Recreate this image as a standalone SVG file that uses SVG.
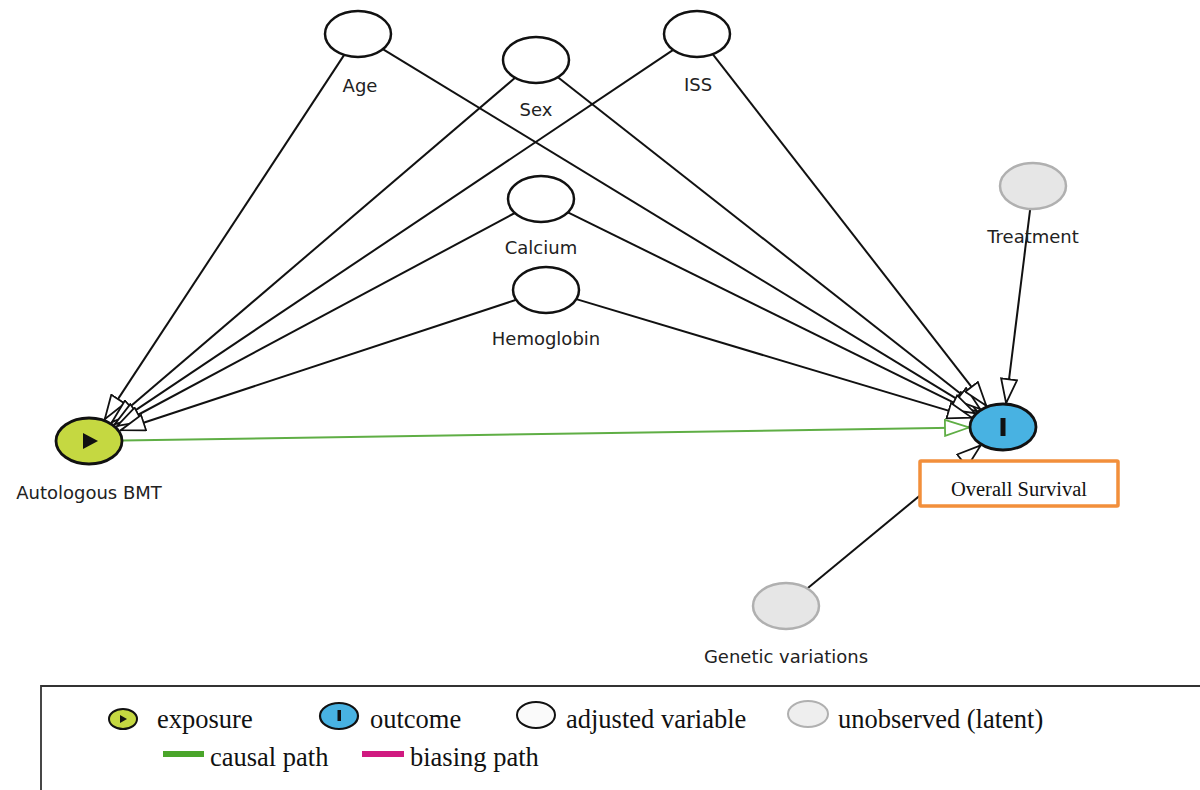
<svg xmlns="http://www.w3.org/2000/svg" width="1200" height="790" viewBox="0 0 1200 790">
<style>
.nd{fill:#ffffff;stroke:#111;stroke-width:2.5}
.lat{fill:#e6e6e6;stroke:#b0b0b0;stroke-width:2.5}
.lbl{font-family:"DejaVu Sans",sans-serif;font-size:18px;fill:#222;text-anchor:middle}
.e{stroke:#111;stroke-width:2;fill:none;marker-end:url(#ah)}
.c{stroke:#5fae45;stroke-width:2;fill:none;marker-end:url(#ahg)}
.lg{font-family:"Liberation Serif",serif;font-size:26.5px;fill:#111}
</style>
<defs>
<marker id="ah" viewBox="0 0 26 18" refX="25" refY="9" markerWidth="26" markerHeight="18" markerUnits="userSpaceOnUse" orient="auto">
<path d="M1,1 L25,9 L1,17 Z" fill="#fff" stroke="#111" stroke-width="1.8"/>
</marker>
<marker id="ahg" viewBox="0 0 26 18" refX="25" refY="9" markerWidth="26" markerHeight="18" markerUnits="userSpaceOnUse" orient="auto">
<path d="M1,1 L25,9 L1,17 Z" fill="#fff" stroke="#5fae45" stroke-width="1.8"/>
</marker>
</defs>
<rect width="1200" height="790" fill="#fff"/>
<g id="connectors">
<line class="e" x1="344.2" y1="54.9" x2="104.8" y2="419.1"/>
<line class="e" x1="515.1" y1="77.8" x2="111.9" y2="422.2"/>
<line class="e" x1="673.2" y1="49.9" x2="114.8" y2="424.1"/>
<line class="e" x1="514.8" y1="213" x2="117.2" y2="426"/>
<line class="e" x1="516.2" y1="299.8" x2="120.8" y2="430.2"/>
<line class="e" x1="382.8" y1="49.1" x2="977.2" y2="411.3"/>
<line class="e" x1="557.9" y1="77.2" x2="980.1" y2="409"/>
<line class="e" x1="712.7" y1="54.2" x2="986.3" y2="405.8"/>
<line class="e" x1="567.9" y1="212.3" x2="975.1" y2="413.2"/>
<line class="e" x1="576.3" y1="299.1" x2="971.7" y2="417.6"/>
<line class="e" x1="1030.2" y1="208.9" x2="1006.1" y2="403.1"/>
<line class="e" x1="807.3" y1="588.4" x2="980.7" y2="445.4"/>
<line class="c" x1="122" y1="440.5" x2="969" y2="427.5"/>
</g>
<g id="age"><ellipse class="nd" cx="358" cy="34" rx="33" ry="23"/><text class="lbl" x="360" y="92">Age</text></g>
<g id="sex"><ellipse class="nd" cx="536" cy="60" rx="33" ry="23"/><text class="lbl" x="536" y="116">Sex</text></g>
<g id="iss"><ellipse class="nd" cx="697" cy="34" rx="33" ry="23"/><text class="lbl" x="698" y="91">ISS</text></g>
<g id="calcium"><ellipse class="nd" cx="541" cy="199" rx="33" ry="23"/><text class="lbl" x="541" y="254">Calcium</text></g>
<g id="hemoglobin"><ellipse class="nd" cx="546" cy="290" rx="33" ry="23"/><text class="lbl" x="546" y="345">Hemoglobin</text></g>
<g id="treatment"><ellipse class="lat" cx="1033" cy="186" rx="33" ry="23"/><text class="lbl" x="1033" y="243">Treatment</text></g>
<g id="genetic"><ellipse class="lat" cx="786" cy="606" rx="33" ry="23"/><text class="lbl" x="786" y="663">Genetic variations</text></g>
<g id="bmt"><ellipse cx="89" cy="441" rx="33" ry="23" fill="#c5d841" stroke="#111" stroke-width="2.8"/><path d="M83,433 L98,441 L83,449 Z" fill="#111"/><text class="lbl" x="89" y="499">Autologous BMT</text></g>
<g id="os"><ellipse cx="1003" cy="427" rx="33" ry="23" fill="#48b2e2" stroke="#111" stroke-width="2.8"/><rect x="1000.5" y="418" width="5" height="18" fill="#111"/>
<rect x="920" y="461" width="198" height="45" fill="#fff" stroke="#f28f3b" stroke-width="3.5" rx="1"/>
<text x="1019" y="496" font-family="Liberation Serif,serif" font-size="20.5" fill="#111" text-anchor="middle">Overall Survival</text></g>
<g id="legend">
<path d="M41,790 L41,686 L1200,686" fill="none" stroke="#333" stroke-width="1.8"/>
<ellipse cx="123" cy="719" rx="14" ry="10" fill="#c5d841" stroke="#111" stroke-width="2"/><path d="M120,715 L127,719 L120,723 Z" fill="#111"/>
<text class="lg" x="157" y="728">exposure</text>
<ellipse cx="339" cy="716" rx="19" ry="13" fill="#48b2e2" stroke="#111" stroke-width="2.2"/><rect x="337.5" y="710" width="3.5" height="11" fill="#111"/>
<text class="lg" x="370" y="728">outcome</text>
<ellipse cx="536" cy="715" rx="19" ry="13" fill="#fafafa" stroke="#111" stroke-width="2"/>
<text class="lg" x="566" y="728">adjusted variable</text>
<ellipse cx="808" cy="714" rx="20" ry="13" fill="#eeeeee" stroke="#b0b0b0" stroke-width="2"/>
<text class="lg" x="838" y="728">unobserved (latent)</text>
<rect x="163" y="751" width="41" height="6" fill="#4aa52a"/>
<text class="lg" x="210" y="766">causal path</text>
<rect x="362" y="751" width="42" height="6" fill="#d01a80"/>
<text class="lg" x="410" y="766">biasing path</text>
</g>
</svg>
